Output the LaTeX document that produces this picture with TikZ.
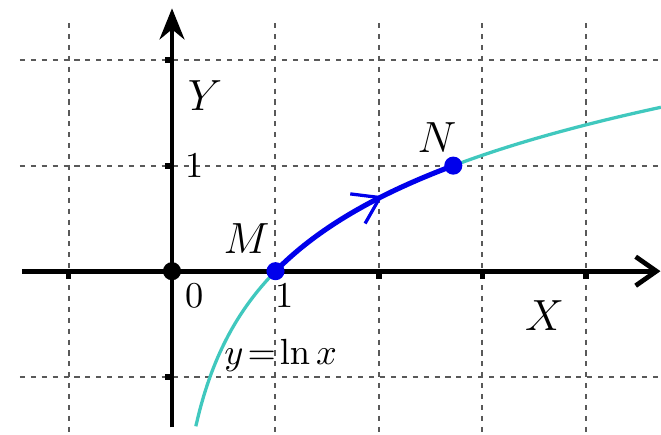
\documentclass[tikz,border=0pt]{standalone}
\usepackage{tikz}
\usetikzlibrary{arrows.meta,decorations.markings}
\usepackage{xcolor}
\definecolor{lncyan}{RGB}{64,200,190}
\definecolor{pathblue}{RGB}{0,0,235}
\begin{document}
\begin{tikzpicture}[x=1cm,y=1.02cm,
  gridline/.style={draw=gray!70!black,line width=0.55pt,dash pattern=on 1.4pt off 1.6pt},
  axis/.style={line width=1.3pt},
  axtick/.style={line width=1.6pt},
  dot/.style={circle,inner sep=0pt,minimum size=1.75mm,fill=pathblue},
  lbl/.style={font=\large},
  num/.style={font=\normalsize},
  midarrow/.style={postaction={decorate},decoration={markings,
    mark=at position 0.63 with {\arrow{Straight Barb[length=2.4mm,width=3.2mm,line width=0.9pt]}}}}
]
  \useasboundingbox (-1.662,-1.545) rectangle (4.725,2.569);
  % Grid
  \foreach \gx in {-1,1,2,3,4}
    \draw[gridline] (\gx,2.35) -- (\gx,-1.545);
  \foreach \gy in {-1,1,2}
    \draw[gridline] (-1.47,\gy) -- (4.725,\gy);
  % Axes
  \coordinate (xstart) at (-1.45,0);
  \coordinate (xend) at (4.72,0);
  \coordinate (ystart) at (0,-1.48);
  \coordinate (yend) at (0,2.49);
  \draw[axis,-{Straight Barb[length=2mm,width=2.8mm]}] (xstart) -- (xend);
  \draw[axis,-{Stealth[length=3mm,width=2.4mm]}] (ystart) -- (yend);
  \foreach \gx in {-1,1,2,3,4}
    \draw[axtick] (\gx,0) -- (\gx,-0.07);
  \foreach \gy in {-1,1,2}
    \draw[axtick] (0,\gy) -- (-0.07,\gy);
  % Curve y = ln x
  \draw[lncyan,line width=0.9pt] plot[domain=0.23:4.725,samples=120,smooth] (\x,{ln(\x)});
  \draw[pathblue,line width=1.4pt,midarrow] plot[domain=1:2.718,samples=50] (\x,{ln(\x)});
  % Points
  \node[dot,fill=black] (orig) at (0,0) {};
  \node[dot] (ptM) at (1,0) {};
  \node[dot] (ptN) at (2.718,1) {};
  % Labels
  \node[lbl] (labY) at (0.32,1.66) {$Y$};
  \node[lbl] (labX) at (3.6,-0.42) {$X$};
  \node[lbl] (labM) at (0.72,0.31) {$M$};
  \node[lbl] (labN) at (2.56,1.27) {$N$};
  \node[num] (lab1y) at (0.22,1.0) {1};
  \node[num] (lab0) at (0.22,-0.23) {0};
  \node[num] (lab1x) at (1.09,-0.23) {1};
  \node[num] (labfn) at (1.05,-0.8) {$y\!=\!\ln x$};
\end{tikzpicture}
\end{document}
